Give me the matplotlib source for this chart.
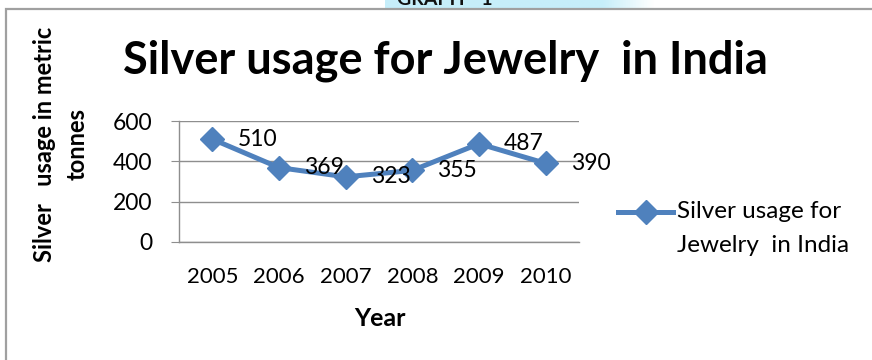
import numpy as np
import matplotlib
matplotlib.use('Agg')
import matplotlib.pyplot as plt
from matplotlib.lines import Line2D
from matplotlib.patches import Rectangle
from matplotlib.colors import LinearSegmentedColormap

# Silver used for jewelry in India (metric tonnes)
years = ['2005', '2006', '2007', '2008', '2009', '2010']
usage = [510, 369, 323, 355, 487, 390]
y_ticks = [0, 200, 400, 600]

series_name = 'Silver usage for\nJewelry  in India'
blue = '#4F81BD'
grid_gray = '#8E8E8E'

plt.rcParams['font.family'] = ['Lato', 'DejaVu Sans']

fig = plt.figure(figsize=(8.72, 3.6), dpi=100)

# Caption strip peeking in above the chart frame
fade = np.concatenate([np.ones(80), np.linspace(1, 0, 20)]).reshape(1, -1)
band_ax = fig.add_axes([385 / 872, 1 - 8 / 360, 270 / 872, 8 / 360])
band_ax.imshow(fade, cmap=LinearSegmentedColormap.from_list('band', ['#ffffff', '#c6eefa']),
               aspect='auto', vmin=0, vmax=1)
band_ax.axis('off')
fig.text(445 / 872, 1 - 5 / 360, 'GRAPH - 1', ha='center', va='baseline',
         fontsize=14, fontweight='bold', color='#111111')

# Chart frame
fig.add_artist(Rectangle((6 / 872, -0.05), 1.0, 1 - 9 / 360 + 0.05,
                         transform=fig.transFigure, fill=False,
                         edgecolor='#A0A0A0', linewidth=1.6))

ax = fig.add_axes([179 / 872, 1 - 242 / 360, 400 / 872, 121 / 360])
x = np.arange(len(years))
ax.plot(x, usage, color=blue, linewidth=3.6, marker='D', markersize=12,
        markerfacecolor=blue, markeredgecolor=blue, solid_joinstyle='round')

for xi, v in zip(x, usage):
    ax.annotate(str(v), (xi, v), xytext=(25, 0), textcoords='offset pixels',
                ha='left', va='center', fontsize=16.5, color='black')

ax.set_xlim(-0.5, len(years) - 0.5)
ax.set_ylim(0, 600)
ax.set_yticks(y_ticks)
ax.set_xticks(x)
ax.set_xticklabels(years)
ax.yaxis.grid(True, color=grid_gray, linewidth=1)
ax.set_axisbelow(True)
for side in ['top', 'right']:
    ax.spines[side].set_visible(False)
for side in ['left', 'bottom']:
    ax.spines[side].set_color(grid_gray)
    ax.spines[side].set_linewidth(1)
ax.tick_params(axis='y', length=6, color=grid_gray, pad=13, labelsize=16.5)
ax.tick_params(axis='x', length=0, pad=18, labelsize=16)

# Titles
fig.text(445 / 872, 1 - 61 / 360, 'Silver usage for Jewelry  in India',
         ha='center', va='center', fontsize=32.5, fontweight='bold')
fig.text(61 / 872, 1 - 144 / 360, 'Silver   usage in metric\ntonnes',
         rotation=90, ha='center', va='center', multialignment='center',
         fontsize=17, fontweight='bold', linespacing=1.5)
fig.text(380 / 872, 1 - 318 / 360, 'Year', ha='center', va='center',
         fontsize=18, fontweight='bold')

# Legend
fig.add_artist(Line2D([618 / 872, 673 / 872], [1 - 212 / 360] * 2,
                      transform=fig.transFigure, color=blue, linewidth=3.6))
fig.add_artist(Line2D([645.5 / 872], [1 - 212 / 360], transform=fig.transFigure,
                      marker='D', markersize=12, color=blue))
fig.text(677 / 872, 1 - 201 / 360, series_name, ha='left', va='top',
         fontsize=17.5, linespacing=1.75)

fig.savefig('out.png', dpi=100)
